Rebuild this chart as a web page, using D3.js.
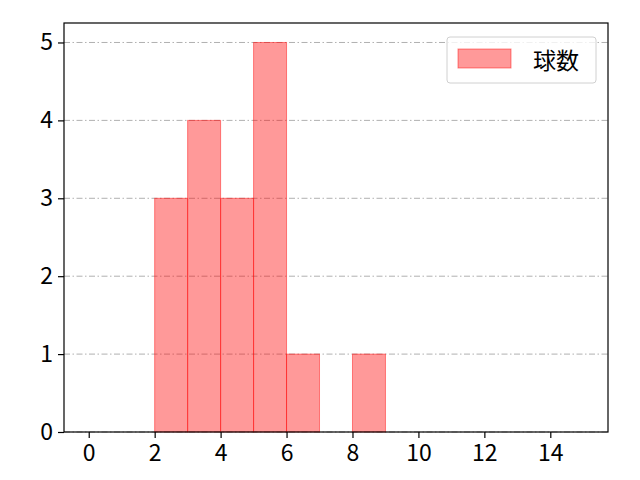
<!DOCTYPE html>
<html>
<head>
<meta charset="utf-8">
<script src="https://cdn.jsdelivr.net/npm/d3@7"></script>
<style>
  body { margin: 0; background: #fff; }
  svg text { font-family: "Noto Sans CJK JP", "DejaVu Sans", sans-serif; }
</style>
</head>
<body>
<div id="chart"></div>
<script>
// histogram bins (left edge) and counts
const binStarts = [2, 3, 4, 5, 6, 8];
const binWidth = 1;
const counts = [3, 4, 3, 5, 1, 1];
const xTicks = [0, 2, 4, 6, 8, 10, 12, 14];
const yTicks = [0, 1, 2, 3, 4, 5];
const seriesName = '球数';

const width = 640, height = 480;
const margin = { top: 23, right: 32, bottom: 48, left: 64 };

const svg = d3.select('#chart').append('svg')
  .attr('width', width)
  .attr('height', height);

const x = d3.scaleLinear().domain([-0.75, 15.75]).range([margin.left, width - margin.right]);
const y = d3.scaleLinear().domain([0, 5.25]).range([height - margin.bottom, margin.top]);

// Grid lines (y only, dash-dot)
svg.append('g')
  .selectAll('line')
  .data(yTicks)
  .join('line')
  .attr('x1', margin.left)
  .attr('x2', width - margin.right)
  .attr('y1', d => y(d))
  .attr('y2', d => y(d))
  .attr('stroke', '#b0b0b0')
  .attr('stroke-width', 1)
  .attr('stroke-dasharray', '6,2.5,1.5,2.5');

// Bars
svg.append('g')
  .selectAll('rect')
  .data(binStarts.map((s, i) => ({ s, c: counts[i] })))
  .join('rect')
  .attr('x', d => x(d.s))
  .attr('y', d => y(d.c))
  .attr('width', d => x(d.s + binWidth) - x(d.s))
  .attr('height', d => y(0) - y(d.c))
  .attr('fill', 'rgba(255,0,0,0.4)')
  .attr('stroke', 'rgba(255,0,0,0.45)')
  .attr('stroke-width', 1);

// Axes
const xAxis = d3.axisBottom(x).tickValues(xTicks).tickFormat(d3.format('d')).tickSize(6).tickPadding(7);
const yAxis = d3.axisLeft(y).tickValues(yTicks).tickFormat(d3.format('d')).tickSize(6).tickPadding(5);

svg.append('g')
  .attr('transform', `translate(0,${y(0)})`)
  .call(xAxis)
  .call(g => g.select('.domain').remove())
  .call(g => g.selectAll('.tick line').attr('stroke', '#000').attr('stroke-width', 1.2))
  .call(g => g.selectAll('.tick text').style('font-size', '23px').attr('fill', '#000'));

svg.append('g')
  .attr('transform', `translate(${margin.left},0)`)
  .call(yAxis)
  .call(g => g.select('.domain').remove())
  .call(g => g.selectAll('.tick line').attr('stroke', '#000').attr('stroke-width', 1.2))
  .call(g => g.selectAll('.tick text').style('font-size', '23px').attr('fill', '#000'));

// Frame
svg.append('rect')
  .attr('x', margin.left)
  .attr('y', margin.top)
  .attr('width', width - margin.left - margin.right)
  .attr('height', height - margin.top - margin.bottom)
  .attr('fill', 'none')
  .attr('stroke', '#000')
  .attr('stroke-width', 1.2);

// Legend
const legend = svg.append('g').attr('transform', 'translate(447,37)');
legend.append('rect')
  .attr('width', 149).attr('height', 46)
  .attr('rx', 3)
  .attr('fill', 'rgba(255,255,255,0.8)')
  .attr('stroke', '#d0d0d0');
legend.append('rect')
  .attr('x', 11).attr('y', 12)
  .attr('width', 53).attr('height', 19)
  .attr('fill', 'rgba(255,0,0,0.4)')
  .attr('stroke', 'rgba(255,0,0,0.45)');
legend.append('text')
  .attr('x', 86).attr('y', 22)
  .attr('dominant-baseline', 'central')
  .style('font-size', '23px')
  .text(seriesName);
</script>
</body>
</html>
